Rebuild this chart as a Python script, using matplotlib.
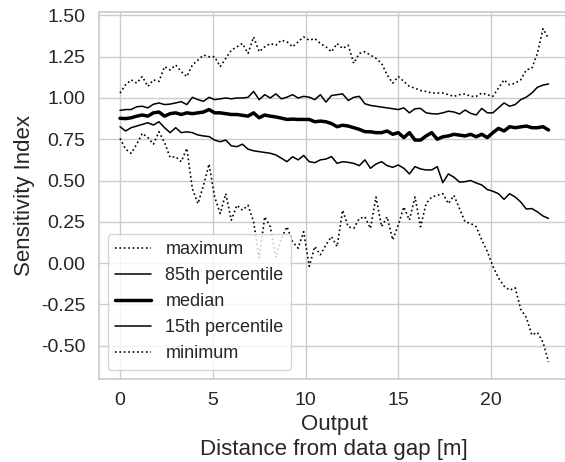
import numpy as np
import matplotlib
matplotlib.use("Agg")
import matplotlib.pyplot as plt
import seaborn as sns

step = 0.3
maximum = [1.03, 1.08, 1.11, 1.09, 1.13, 1.07, 1.11, 1.10, 1.19, 1.17,
           1.20, 1.16, 1.13, 1.20, 1.23, 1.26, 1.25, 1.25, 1.19, 1.24,
           1.29, 1.31, 1.33, 1.27, 1.37, 1.28, 1.31, 1.33, 1.32, 1.35,
           1.34, 1.31, 1.34, 1.37, 1.35, 1.36, 1.33, 1.31, 1.28, 1.33,
           1.30, 1.32, 1.21, 1.27, 1.28, 1.26, 1.24, 1.21, 1.14, 1.09,
           1.13, 1.10, 1.07, 1.06, 1.045, 1.04, 1.03, 1.03, 1.03, 1.02,
           1.01, 1.02, 1.025, 1.01, 1.01, 1.03, 1.02, 1.01, 1.06, 1.11,
           1.08, 1.09, 1.11, 1.17, 1.18, 1.27, 1.42, 1.36]
p85 = [0.925, 0.93, 0.93, 0.947, 0.95, 0.94, 0.962, 0.97, 0.96, 0.963,
       0.97, 0.978, 0.96, 1.004, 0.99, 0.98, 1.004, 0.99, 0.995, 1.0,
       0.995, 1.0, 1.0, 1.004, 1.04, 0.99, 1.02, 1.0, 1.025, 0.995,
       1.005, 1.02, 1.0, 1.01, 1.005, 0.99, 1.02, 0.975, 1.015, 1.02,
       1.025, 0.985, 1.004, 1.01, 0.965, 0.955, 0.95, 0.945, 0.94, 0.935,
       0.93, 0.94, 0.91, 0.935, 0.937, 0.91, 0.905, 0.903, 0.91, 0.92,
       0.915, 0.903, 0.927, 0.907, 0.897, 0.937, 0.91, 0.91, 0.94, 0.97,
       0.95, 0.96, 0.99, 1.005, 1.03, 1.065, 1.078, 1.085]
median = [0.877, 0.875, 0.88, 0.89, 0.897, 0.89, 0.91, 0.915, 0.89, 0.905,
          0.91, 0.90, 0.91, 0.905, 0.91, 0.915, 0.93, 0.91, 0.91, 0.905,
          0.90, 0.90, 0.895, 0.89, 0.91, 0.88, 0.897, 0.89, 0.885, 0.878,
          0.87, 0.872, 0.87, 0.87, 0.87, 0.856, 0.86, 0.856, 0.845, 0.826,
          0.835, 0.83, 0.82, 0.81, 0.796, 0.795, 0.79, 0.79, 0.80, 0.78,
          0.79, 0.76, 0.79, 0.745, 0.745, 0.77, 0.79, 0.75, 0.765, 0.77,
          0.78, 0.775, 0.77, 0.78, 0.765, 0.78, 0.76, 0.79, 0.816, 0.80,
          0.826, 0.82, 0.825, 0.83, 0.82, 0.82, 0.826, 0.806]
p15 = [0.826, 0.80, 0.82, 0.83, 0.84, 0.85, 0.836, 0.856, 0.82, 0.79,
       0.82, 0.79, 0.795, 0.79, 0.776, 0.77, 0.766, 0.745, 0.735, 0.745,
       0.71, 0.705, 0.72, 0.69, 0.68, 0.675, 0.67, 0.665, 0.655, 0.635,
       0.614, 0.644, 0.625, 0.652, 0.614, 0.608, 0.625, 0.63, 0.645, 0.604,
       0.614, 0.61, 0.604, 0.59, 0.625, 0.574, 0.60, 0.614, 0.59, 0.58,
       0.594, 0.574, 0.54, 0.584, 0.57, 0.564, 0.564, 0.584, 0.487, 0.54,
       0.52, 0.49, 0.493, 0.50, 0.485, 0.473, 0.445, 0.435, 0.42, 0.386,
       0.42, 0.40, 0.37, 0.327, 0.33, 0.31, 0.285, 0.27]
minimum = [0.755, 0.69, 0.665, 0.72, 0.786, 0.76, 0.72, 0.795, 0.73, 0.64,
           0.644, 0.614, 0.695, 0.45, 0.36, 0.47, 0.60, 0.40, 0.30, 0.42,
           0.26, 0.35, 0.32, 0.35, 0.25, 0.03, 0.28, 0.22, 0.035, 0.15,
           0.22, 0.13, 0.09, 0.19, -0.02, 0.10, 0.05, 0.11, 0.16, 0.10,
           0.32, 0.22, 0.21, 0.27, 0.28, 0.21, 0.40, 0.22, 0.28, 0.14,
           0.23, 0.34, 0.26, 0.40, 0.22, 0.36, 0.40, 0.41, 0.42, 0.36,
           0.41, 0.33, 0.25, 0.24, 0.22, 0.14, 0.07, -0.02, -0.09, -0.14,
           -0.165, -0.15, -0.28, -0.33, -0.436, -0.42, -0.48, -0.60]

distance = np.arange(len(median)) * step

sns.set_theme(style="whitegrid")
plt.rcParams['font.family'] = ['Liberation Sans', 'DejaVu Sans']

fig = plt.figure(figsize=(5.65, 4.62), dpi=100)
ax = fig.add_axes([0.1745, 0.1803, 0.8343, 0.7937])

ax.plot(distance, maximum, color='black', linestyle=':', lw=1.2, label='maximum')
ax.plot(distance, p85, color='black', linestyle='-', lw=1.1, label='85th percentile')
ax.plot(distance, median, color='black', linestyle='-', lw=2.5, label='median')
ax.plot(distance, p15, color='black', linestyle='-', lw=1.1, label='15th percentile')
ax.plot(distance, minimum, color='black', linestyle=':', lw=1.2, label='minimum')

ax.set_xlim(-1.155, 24.255)
ax.set_ylim(-0.701, 1.521)
ax.set_xticks([0, 5, 10, 15, 20])
ax.set_yticks([-0.5, -0.25, 0.0, 0.25, 0.5, 0.75, 1.0, 1.25, 1.5])
ax.yaxis.set_major_formatter(matplotlib.ticker.FormatStrFormatter('%.2f'))
ax.tick_params(labelsize=14, colors='#262626')
ax.set_xlabel('Output\nDistance from data gap [m]', fontsize=16, color='#262626')
ax.set_ylabel('Sensitivity Index', fontsize=16, color='#262626')
ax.legend(loc='lower left', fontsize=13)

fig.savefig('out.png', dpi=100)
